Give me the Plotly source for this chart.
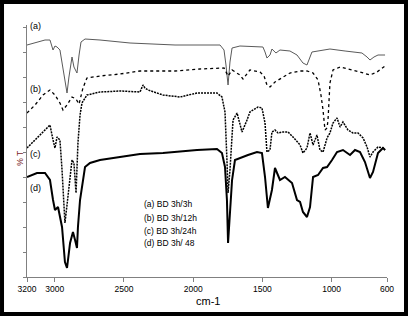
import plotly.graph_objects as go

# Wavenumbers (cm-1) and transmittance (arbitrary offset units)
wn_a = [3200, 3070, 3034, 3012, 2998, 2983, 2962, 2940, 2926, 2911, 2897, 2875, 2861, 2839, 2824, 2810, 2781,
        2673, 2456, 2131, 1806, 1777, 1763, 1748, 1734, 1719, 1662, 1496, 1481, 1467, 1445, 1431, 1402, 1373,
        1301, 1250, 1207, 1178, 1142, 1012, 903, 781, 744, 723, 694, 665, 614]
t_a = [232, 237, 237, 227, 231, 230, 227, 209, 197, 184, 200, 220, 210, 204, 222, 235, 238,
       237, 234, 232, 232, 227, 212, 192, 215, 229, 231, 230, 225, 219, 222, 228, 224, 227,
       226, 222, 214, 212, 225, 228, 226, 224, 220, 217, 220, 222, 222]

wn_b = [3200, 3142, 3084, 3034, 2998, 2962, 2940, 2911, 2875, 2846, 2824, 2796, 2767, 2673, 2528, 2384,
        2131, 1951, 1777, 1748, 1719, 1662, 1640, 1611, 1590, 1517, 1488, 1467, 1445, 1409, 1358, 1301,
        1228, 1178, 1134, 1098, 1077, 1062, 1048, 1033, 1026, 1012, 990, 939, 795, 723, 672, 614]
t_b = [164, 172, 182, 187, 182, 174, 167, 172, 180, 178, 173, 189, 199, 201, 203, 206,
       206, 208, 209, 201, 207, 202, 198, 203, 207, 205, 201, 192, 190, 195, 199, 204,
       206, 206, 204, 197, 182, 167, 147, 149, 157, 194, 207, 210, 205, 202, 205, 211]

wn_c = [3200, 3106, 3034, 3012, 2998, 2983, 2962, 2947, 2933, 2926, 2911, 2889, 2875, 2861, 2846, 2832,
        2817, 2803, 2767, 2673, 2528, 2384, 2362, 2348, 2326, 2218, 2095, 1972, 1828, 1792, 1770, 1756,
        1748, 1734, 1712, 1683, 1647, 1611, 1590, 1532, 1503, 1481, 1467, 1445, 1431, 1409, 1387, 1358,
        1315, 1279, 1228, 1207, 1178, 1156, 1134, 1106, 1084, 1062, 1033, 1012, 990, 961, 939, 918, 882,
        846, 809, 773, 744, 723, 701, 665, 629, 614]
t_c = [129, 142, 152, 137, 129, 140, 137, 107, 67, 54, 72, 102, 117, 114, 84, 134,
       162, 174, 182, 185, 186, 185, 192, 189, 187, 182, 180, 184, 184, 180, 165, 117,
       84, 107, 157, 164, 145, 157, 165, 170, 169, 154, 125, 127, 145, 147, 144, 145,
       145, 140, 132, 124, 129, 144, 132, 142, 127, 125, 139, 144, 154, 159, 150, 155, 147,
       144, 144, 139, 130, 120, 125, 130, 129, 127]

wn_d = [3200, 3128, 3070, 3034, 3012, 2998, 2976, 2947, 2926, 2911, 2889, 2868, 2853, 2839, 2832, 2817,
        2781, 2745, 2673, 2528, 2384, 2218, 1972, 1828, 1792, 1770, 1756, 1748, 1734, 1719, 1698, 1662,
        1604, 1539, 1503, 1481, 1460, 1431, 1409, 1373, 1337, 1286, 1250, 1228, 1207, 1178, 1156, 1134,
        1098, 1062, 1033, 997, 961, 918, 867, 831, 795, 759, 723, 701, 665, 629, 614]
t_d = [100, 104, 104, 97, 77, 67, 70, 50, 15, 9, 34, 45, 37, 29, 50, 77,
       110, 114, 117, 120, 123, 124, 127, 128, 124, 110, 77, 34, 62, 97, 117, 119,
       122, 125, 124, 100, 69, 87, 109, 97, 100, 94, 77, 75, 65, 60, 70, 100,
       102, 109, 110, 117, 125, 127, 122, 127, 125, 115, 99, 105, 124, 129, 127]

x_ticks = [3200, 3000, 2500, 2000, 1500, 1000, 600]
curve_labels = ["(a)", "(b)", "(c)", "(d)"]
curve_label_y = [251, 188, 123, 89]
legend_lines = ["(a) BD 3h/3h", "(b) BD 3h/12h", "(c) BD 3h/24h", "(d) BD 3h/ 48"]
legend_y = [73, 59, 46, 34]

FONT = "Liberation Sans Narrow, Arial Narrow, Liberation Sans, Arial, sans-serif"

fig = go.Figure()
fig.add_trace(go.Scatter(x=wn_a, y=t_a, mode="lines", line=dict(color="#5a5a5a", width=1)))
fig.add_trace(go.Scatter(x=wn_b, y=t_b, mode="lines", line=dict(color="black", width=1.3, dash="dot")))
fig.add_trace(go.Scatter(x=wn_c, y=t_c, mode="lines", line=dict(color="black", width=1.5, dash="2px,1px")))
fig.add_trace(go.Scatter(x=wn_d, y=t_d, mode="lines", line=dict(color="black", width=2)))

annotations = []
for lab, yy in zip(curve_labels, curve_label_y):
    annotations.append(dict(x=3195, y=yy, xref="x", yref="y", text=lab, showarrow=False,
                            xanchor="left", yanchor="middle", font=dict(family=FONT, size=9, color="black")))
for lab, yy in zip(legend_lines, legend_y):
    annotations.append(dict(x=2370, y=yy, xref="x", yref="y", text=lab, showarrow=False,
                            xanchor="left", yanchor="middle", font=dict(family=FONT, size=8.5, color="black")))
annotations.append(dict(x=0.503, y=-0.097, xref="paper", yref="paper", text="cm-1", showarrow=False,
                        xanchor="center", yanchor="middle", font=dict(family=FONT, size=11, color="black")))
annotations.append(dict(x=-0.02, y=119, xref="paper", yref="y", text="% T", textangle=-90, showarrow=False,
                        xanchor="center", yanchor="middle", font=dict(family=FONT, size=8.5, color="#7a1f1f")))

fig.update_layout(
    width=408, height=316,
    margin=dict(l=27, r=21, t=25, b=39),
    paper_bgcolor="white", plot_bgcolor="white",
    showlegend=False,
    annotations=annotations,
    shapes=[dict(type="rect", xref="paper", yref="paper",
                 x0=-0.0694, x1=1.0528, y0=-0.1468, y1=1.0913,
                 line=dict(color="black", width=4), fillcolor="rgba(0,0,0,0)")],
    xaxis=dict(range=[3200, 600], tickvals=x_ticks, ticktext=[str(v) for v in x_ticks],
               showgrid=False, zeroline=False, showline=True, linecolor="#808080", linewidth=1,
               ticks="outside", ticklen=4, tickcolor="#808080",
               tickfont=dict(family=FONT, size=8.5, color="black")),
    yaxis=dict(range=[0, 252], tick0=0, dtick=25, showticklabels=False,
               showgrid=False, zeroline=False, showline=True, linecolor="#808080", linewidth=1,
               ticks="outside", ticklen=3, tickcolor="#808080"),
)

fig.write_html("out.html", config={"displayModeBar": False},
               post_script="document.body.style.margin='0';document.body.style.overflow='hidden';")
